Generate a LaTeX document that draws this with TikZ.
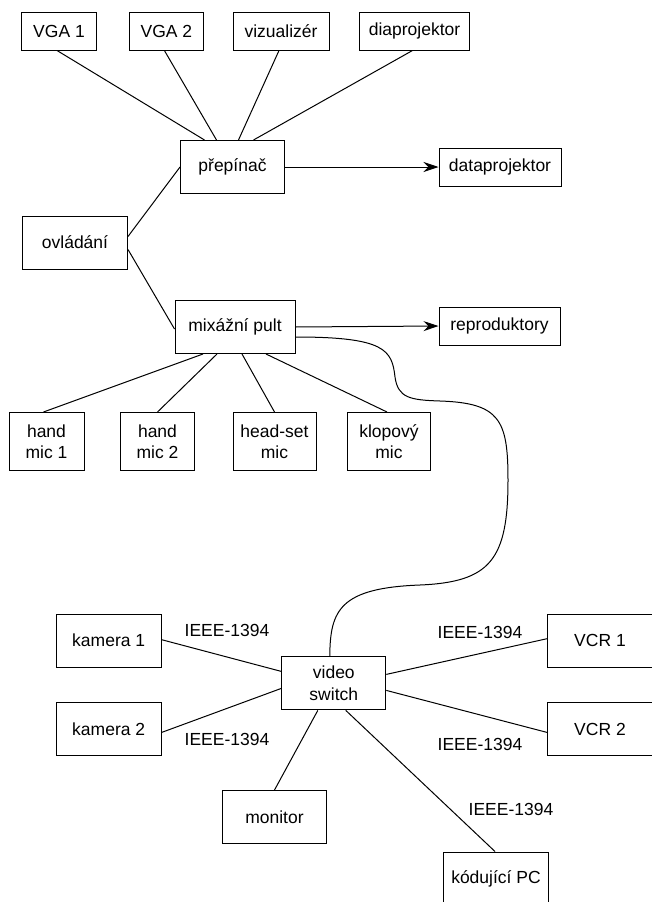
\documentclass[tikz,border=0pt]{standalone}
\usepackage{fontspec}
\setmainfont{Liberation Sans}
\usetikzlibrary{arrows.meta}

\begin{document}
\begin{tikzpicture}[x=1pt, y=-1pt, line width=1pt,
  box/.style={draw, inner sep=0pt, align=center, minimum height=53,
    font=\fontsize{17.5}{21.5}\selectfont},
  lowbox/.style={box, minimum height=38},
  lbl/.style={inner sep=0pt, font=\fontsize{17.5}{21.5}\selectfont},
  arr/.style={-{Stealth[length=15pt,width=10pt]}}]
  \useasboundingbox (0,0) rectangle (651,902);

  % Zdroje obrazu
  \node[lowbox, minimum width=75] (vga1) at (59,31) {VGA 1};
  \node[lowbox, minimum width=74] (vga2) at (166.4,31) {VGA 2};
  \node[lowbox, minimum width=96] (vizual) at (281,31) {vizualizér};
  \node[lowbox, minimum width=110] (diaproj) at (414.5,31) {diaprojektor};

  % Prepinac a ovladani
  \node[box, minimum width=104] (prepinac) at (232.5,167) {přepínač};
  \node[lowbox, minimum width=122] (dataproj) at (500,167) {dataprojektor};
  \node[box, minimum width=105] (ovladani) at (75,242.5) {ovládání};
  \node[box, minimum width=120] (mixpult) at (235,327) {mixážní pult};
  \node[lowbox, minimum width=121] (repro) at (499.5,326) {reproduktory};

  % Mikrofony
  \node[box, minimum width=75, minimum height=58] (hmic1) at (46.5,441.5) {hand\\mic 1};
  \node[box, minimum width=74, minimum height=58] (hmic2) at (157.5,441.5) {hand\\mic 2};
  \node[box, minimum width=83, minimum height=58] (hsmic) at (274.5,441.5) {head-set\\mic};
  \node[box, minimum width=83, minimum height=58] (klmic) at (389,441.5) {klopový\\mic};

  % Video cast
  \node[box, minimum width=105] (kam1) at (108.7,640.7) {kamera 1};
  \node[box, minimum width=105] (kam2) at (108.7,729.4) {kamera 2};
  \node[box, minimum width=104] (vswitch) at (333.8,683.4) {video\\switch};
  \node[box, minimum width=105] (vcr1) at (600,640.7) {VCR 1};
  \node[box, minimum width=105] (vcr2) at (600,729.4) {VCR 2};
  \node[box, minimum width=104] (monitor) at (274.5,817) {monitor};
  \node[box, minimum width=105] (kodpc) at (496,878.5) {kódující PC};

  \node[lbl] (ieee1) at (227,630) {IEEE-1394};
  \node[lbl] (ieee2) at (227,739) {IEEE-1394};
  \node[lbl] (ieee3) at (480,632) {IEEE-1394};
  \node[lbl] (ieee4) at (480,744) {IEEE-1394};
  \node[lbl] (ieee5) at (511,809) {IEEE-1394};

  % Spojeni
  \draw ([xshift=-2]vga1.south) -- ([xshift=-28]prepinac.north);
  \draw ([xshift=-2]vga2.south) -- ([xshift=-16]prepinac.north);
  \draw ([xshift=-2]vizual.south) -- ([xshift=6]prepinac.north);
  \draw ([xshift=-2]diaproj.south) -- ([xshift=21]prepinac.north);
  \draw[arr] (prepinac.east) -- (dataproj.west);
  \draw ([yshift=6]ovladani.east) -- (prepinac.west);
  \draw ([yshift=-7]ovladani.east) -- ([yshift=-2]mixpult.west);
  \draw[arr] (mixpult.east) -- (repro.west);

  \draw ([xshift=-32]mixpult.south) -- ([xshift=-3]hmic1.north);
  \draw ([xshift=-18]mixpult.south) -- (hmic2.north);
  \draw ([xshift=7]mixpult.south) -- (hsmic.north);
  \draw ([xshift=31]mixpult.south) -- ([xshift=-2]klmic.north);

  \draw ([yshift=-10]mixpult.east) .. controls (385,337) and (392,350) .. (395,377)
    .. controls (398,398) and (410,400) .. (440,401)
    .. controls (500,403) and (508,420) .. (508,480)
    .. controls (508,560) and (490,582) .. (420,585)
    .. controls (340,588) and (330,610) .. ([xshift=-4]vswitch.north);

  \draw ([yshift=1]kam1.east) -- ([yshift=12]vswitch.west);
  \draw ([yshift=-3]kam2.east) -- ([yshift=-5]vswitch.west);
  \draw ([yshift=9]vswitch.east) -- ([yshift=2]vcr1.west);
  \draw ([yshift=-7]vswitch.east) -- ([yshift=-3]vcr2.west);
  \draw ([xshift=-16]vswitch.south) -- (monitor.north);
  \draw ([xshift=12]vswitch.south) -- ([xshift=-1]kodpc.north);
\end{tikzpicture}
\end{document}
